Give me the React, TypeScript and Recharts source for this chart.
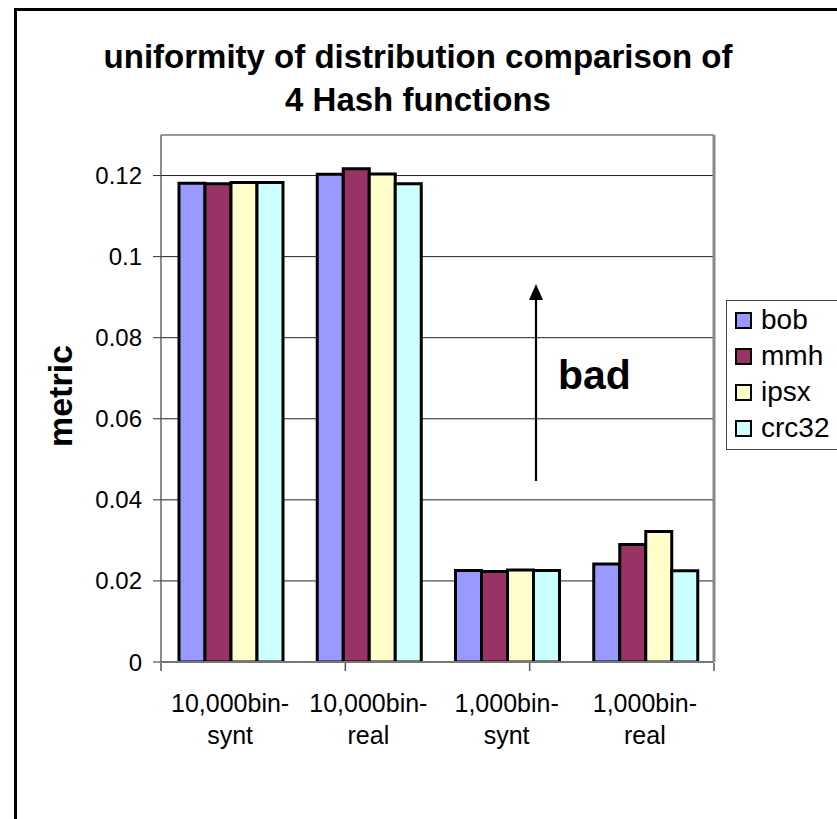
import React from 'react';
import { BarChart, Bar, XAxis, YAxis, CartesianGrid, Legend, ReferenceLine } from 'recharts';

const categories = ['10,000bin-synt', '10,000bin-real', '1,000bin-synt', '1,000bin-real'];
const bob = [0.1181, 0.1203, 0.0226, 0.0242];
const mmh = [0.118, 0.1217, 0.0223, 0.029];
const ipsx = [0.1183, 0.1204, 0.0227, 0.0322];
const crc32 = [0.1183, 0.118, 0.0226, 0.0225];
const yTicks = [0, 0.02, 0.04, 0.06, 0.08, 0.1, 0.12];
const edgeTicks = [0, 1, 2, 3, 4];

const series = [
  { key: 'bob', values: bob, color: '#9999FF' },
  { key: 'mmh', values: mmh, color: '#993366' },
  { key: 'ipsx', values: ipsx, color: '#FFFFCC' },
  { key: 'crc32', values: crc32, color: '#CCFFFF' },
];

const data = categories.map((name, i) => {
  const row: Record<string, string | number> = { name };
  series.forEach((s) => {
    row[s.key] = s.values[i];
  });
  return row;
});

const FONT = '"Liberation Sans", Arial, sans-serif';
const order = series.map((s) => s.key);

function CategoryTick({ x, y, payload }: any) {
  const label: string = payload.value;
  const cut = label.indexOf('-') + 1;
  return (
    <text x={x} y={y} textAnchor="middle" fontSize={25} fill="#000" fontFamily={FONT}>
      <tspan x={x} dy={50}>{label.slice(0, cut)}</tspan>
      <tspan x={x} dy={32}>{label.slice(cut)}</tspan>
    </text>
  );
}

function LegendBox({ payload }: any) {
  const items = [...(payload || [])].sort(
    (a: any, b: any) => order.indexOf(a.dataKey) - order.indexOf(b.dataKey)
  );
  return (
    <div
      style={{
        border: '1px solid #444',
        background: '#fff',
        width: 125,
        padding: '1px 0 3px 8px',
        boxSizing: 'border-box',
        fontFamily: FONT,
        fontSize: 28,
        lineHeight: 1,
      }}
    >
      {items.map((p: any) => (
        <div key={p.value} style={{ display: 'flex', alignItems: 'center', height: 36 }}>
          <span
            style={{
              display: 'inline-block',
              width: 17,
              height: 17,
              boxSizing: 'border-box',
              border: '2px solid #000',
              background: p.color,
              marginRight: 9,
            }}
          />
          <span style={{ color: '#000' }}>{p.value}</span>
        </div>
      ))}
    </div>
  );
}

export default function App() {
  return (
    <div style={{ position: 'absolute', left: 0, top: 0, width: 837, height: 819, overflow: 'hidden', background: '#fff' }}>
      <BarChart
        width={837}
        height={819}
        data={data}
        margin={{ top: 135, right: 122, bottom: 155, left: 0 }}
        barGap={0}
        barCategoryGap={18}
      >
        <CartesianGrid xAxisId="cat" yAxisId="l" vertical={false} stroke="#222" />
        <XAxis
          xAxisId="cat"
          dataKey="name"
          height={1}
          tickLine={false}
          tickSize={0}
          tickMargin={0}
          axisLine={{ stroke: '#777', strokeWidth: 2 }}
          tick={<CategoryTick />}
          interval={0}
        />
        <XAxis
          xAxisId="edges"
          type="number"
          domain={[0, 4]}
          ticks={edgeTicks}
          allowDataOverflow
          height={1}
          tick={{ fontSize: 1, fill: 'none' }}
          tickFormatter={() => ''}
          axisLine={false}
          tickSize={8}
          tickLine={{ stroke: '#555', strokeWidth: 1.5 }}
        />
        <YAxis
          yAxisId="l"
          width={161}
          domain={[0, 0.13]}
          ticks={yTicks}
          allowDataOverflow
          tickSize={8}
          tickMargin={11}
          tickLine={{ stroke: '#333' }}
          axisLine={{ stroke: '#666', strokeWidth: 1.5 }}
          tick={{ fontSize: 24, fill: '#000', fontFamily: FONT }}
        />
        <YAxis
          yAxisId="r"
          orientation="right"
          width={1}
          domain={[0, 0.13]}
          tick={false}
          tickLine={false}
          axisLine={{ stroke: '#888', strokeWidth: 3 }}
        />
        <ReferenceLine xAxisId="cat" yAxisId="l" y={0.13} stroke="#999" strokeWidth={2} />
        {series.map((s) => (
          <Bar
            key={s.key}
            xAxisId="cat"
            yAxisId="l"
            dataKey={s.key}
            name={s.key}
            fill={s.color}
            stroke="#000"
            strokeWidth={3}
            isAnimationActive={false}
          />
        ))}
        <Legend
          layout="vertical"
          align="center"
          verticalAlign="middle"
          wrapperStyle={{ left: 726, top: 300, width: 125 }}
          content={<LegendBox />}
        />
      </BarChart>
      <svg
        width={837}
        height={819}
        style={{ position: 'absolute', left: 0, top: 0, pointerEvents: 'none' }}
        fontFamily={FONT}
      >
        <rect x={15.5} y={9.5} width={900} height={900} fill="none" stroke="#000" strokeWidth={3} />
        <text x={418} y={68} textAnchor="middle" fontSize={33} fontWeight="bold" fill="#000">
          uniformity of distribution comparison of
        </text>
        <text x={418} y={111} textAnchor="middle" fontSize={33} fontWeight="bold" fill="#000">
          4 Hash functions
        </text>
        <text
          x={60}
          y={396}
          transform="rotate(-90 60 396)"
          textAnchor="middle"
          dominantBaseline="central"
          fontSize={34}
          fontWeight="bold"
          fill="#000"
        >
          metric
        </text>
        <line x1={536} y1={481} x2={536} y2={298} stroke="#000" strokeWidth={2.2} />
        <polygon points="536,284 529,300 543,300" fill="#000" />
        <text x={558} y={389} fontSize={41} fontWeight="bold" fill="#000">
          bad
        </text>
      </svg>
    </div>
  );
}
